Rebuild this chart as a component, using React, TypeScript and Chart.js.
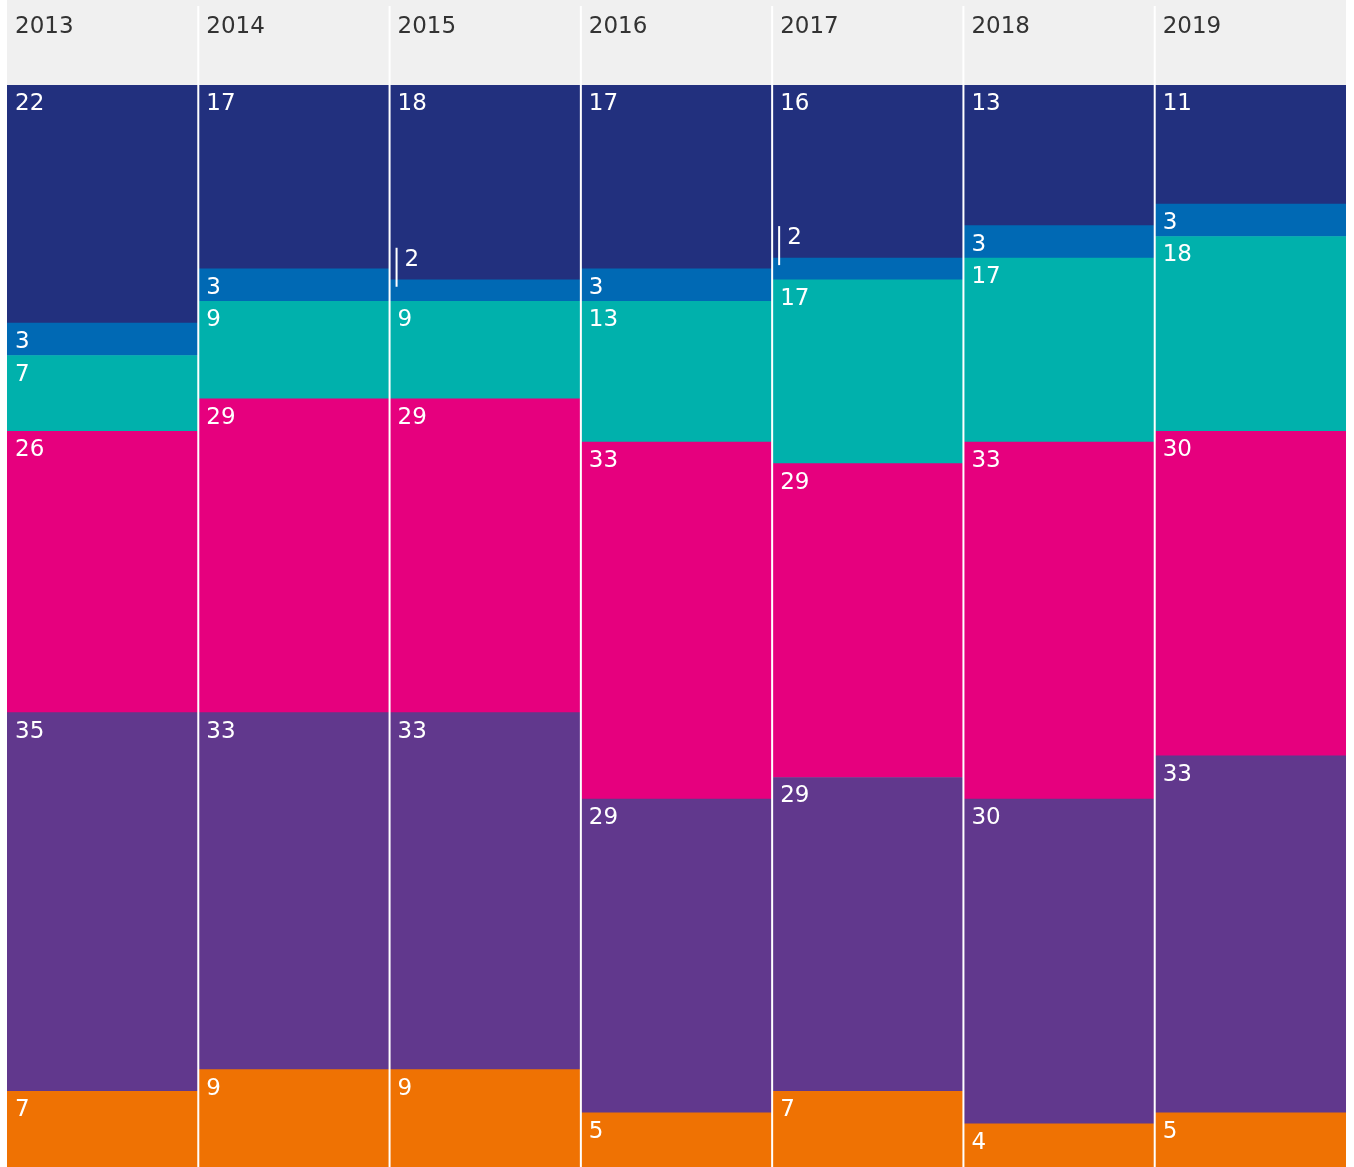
import React, { useEffect, useRef } from "react";
import { Chart, registerables } from "chart.js";

Chart.register(...registerables);

const years = ["2013", "2014", "2015", "2016", "2017", "2018", "2019"];
const darkBlue = [22, 17, 18, 17, 16, 13, 11];
const blue = [3, 3, 2, 3, 2, 3, 3];
const teal = [7, 9, 9, 13, 17, 17, 18];
const magenta = [26, 29, 29, 33, 29, 33, 30];
const purple = [35, 33, 33, 29, 29, 30, 33];
const orange = [7, 9, 9, 5, 7, 4, 5];

const FONT = "23px 'DejaVu Sans', Verdana, sans-serif";

const headerAndLabels = {
  id: "headerAndLabels",
  beforeDraw(chart: any) {
    const { ctx, chartArea } = chart;
    ctx.save();
    ctx.fillStyle = "#f0f0f0";
    ctx.fillRect(chartArea.left, 0, chartArea.right - chartArea.left, chartArea.top);
    ctx.restore();
  },
  afterDatasetsDraw(chart: any) {
    const { ctx, chartArea } = chart;
    const n = chart.data.labels.length;
    const colW = (chartArea.right - chartArea.left) / n;
    ctx.save();
    // year labels
    ctx.font = FONT;
    ctx.fillStyle = "#333333";
    ctx.textBaseline = "alphabetic";
    ctx.textAlign = "left";
    chart.data.labels.forEach((lab: string, i: number) => {
      ctx.fillText(lab, chartArea.left + i * colW + 8, 33);
    });
    // value labels
    ctx.fillStyle = "#ffffff";
    ctx.strokeStyle = "#ffffff";
    chart.data.datasets.forEach((ds: any, di: number) => {
      const meta = chart.getDatasetMeta(di);
      meta.data.forEach((el: any, i: number) => {
        const v = ds.data[i];
        const left = el.x - el.width / 2;
        const top = Math.min(el.y, el.base);
        if (v >= 3) {
          ctx.fillText(String(v), left + 8, top + 25);
        } else {
          ctx.lineWidth = 2;
          ctx.beginPath();
          ctx.moveTo(left + 7, top - 32);
          ctx.lineTo(left + 7, top + 7);
          ctx.stroke();
          ctx.fillText(String(v), left + 15, top - 14);
        }
      });
    });
    // white column separators
    ctx.fillStyle = "#ffffff";
    for (let i = 1; i < n; i++) {
      const x = chartArea.left + i * colW;
      ctx.fillRect(x - 1, 6, 2, chartArea.bottom - 6);
    }
    ctx.restore();
  },
};

export default function App() {
  const ref = useRef<HTMLCanvasElement | null>(null);
  useEffect(() => {
    if (!ref.current) return;
    const mk = (label: string, data: number[], color: string) => ({
      label,
      data,
      backgroundColor: color,
      borderWidth: 0,
      barPercentage: 1,
      categoryPercentage: 1,
      stack: "s",
    });
    const chart = new Chart(ref.current, {
      type: "bar",
      data: {
        labels: years,
        datasets: [
          mk("orange", orange, "#ef7203"),
          mk("purple", purple, "#61388d"),
          mk("magenta", magenta, "#e6007e"),
          mk("teal", teal, "#00b1ac"),
          mk("blue", blue, "#0069b4"),
          mk("darkBlue", darkBlue, "#22307e"),
        ],
      },
      options: {
        animation: false,
        responsive: false,
        maintainAspectRatio: false,
        layout: { padding: { left: 7, right: 8, top: 85, bottom: 0 } },
        plugins: { legend: { display: false }, tooltip: { enabled: false } },
        scales: {
          x: { stacked: true, display: false },
          y: { stacked: true, display: false, min: 0, max: 100 },
        },
      },
      plugins: [headerAndLabels],
    });
    return () => chart.destroy();
  }, []);
  return (
    <div style={{ position: "absolute", left: 0, top: 0, width: 1354, height: 1167 }}>
      <canvas ref={ref} width={1354} height={1167} style={{ display: "block" }} />
    </div>
  );
}
